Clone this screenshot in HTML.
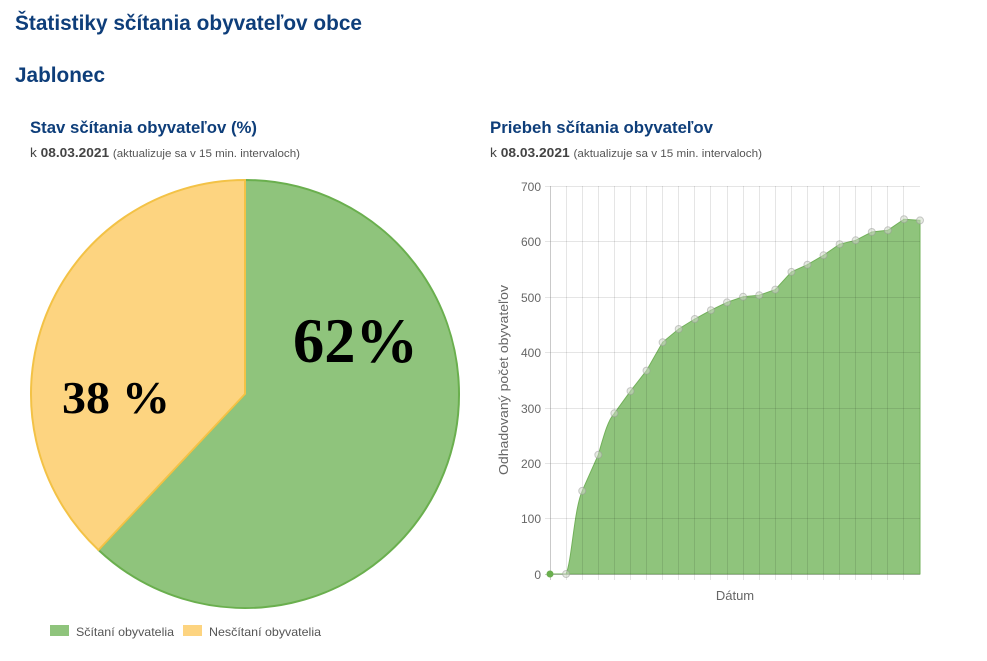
<!DOCTYPE html>
<html><head><meta charset="utf-8"><style>
html,body{margin:0;padding:0;background:#fff;}
svg{display:block;font-family:"Liberation Sans",sans-serif;}
</style></head><body>
<svg width="987" height="661" viewBox="0 0 987 661" xmlns="http://www.w3.org/2000/svg">
<g fill="#0e3e7a" font-weight="bold">
<text x="15" y="30" font-size="21" textLength="347" lengthAdjust="spacingAndGlyphs">Štatistiky sčítania obyvateľov obce</text>
<text x="15" y="82" font-size="21" textLength="90" lengthAdjust="spacingAndGlyphs">Jablonec</text>
<text x="30" y="133" font-size="17" textLength="227" lengthAdjust="spacingAndGlyphs">Stav sčítania obyvateľov (%)</text>
<text x="490" y="133" font-size="17" textLength="223" lengthAdjust="spacingAndGlyphs">Priebeh sčítania obyvateľov</text>
</g>
<g fill="#444" font-size="13">
<text x="30" y="157" textLength="270" lengthAdjust="spacingAndGlyphs">k <tspan font-weight="bold">08.03.2021</tspan> <tspan font-size="11" fill="#555">(aktualizuje sa v 15 min. intervaloch)</tspan></text>
<text x="490" y="157" textLength="272" lengthAdjust="spacingAndGlyphs">k <tspan font-weight="bold">08.03.2021</tspan> <tspan font-size="11" fill="#555">(aktualizuje sa v 15 min. intervaloch)</tspan></text>
</g>
<path d="M245,394 L245,180 A214,214 0 1 1 98.5,550 Z" fill="#8fc47c" stroke="#6aaf4e" stroke-width="2"/>
<path d="M245,394 L98.5,550 A214,214 0 0 1 245,180 Z" fill="#fdd480" stroke="#f3c246" stroke-width="2"/>
<text x="293" y="362" font-family="Liberation Serif,serif" font-weight="bold" font-size="64" textLength="125" lengthAdjust="spacingAndGlyphs">62%</text>
<text x="62" y="413" font-family="Liberation Serif,serif" font-weight="bold" font-size="46" textLength="108" lengthAdjust="spacingAndGlyphs">38 %</text>
<rect x="50" y="625" width="19" height="11" fill="#8fc47c"/>
<text x="76" y="636" font-size="12" fill="#555" textLength="98" lengthAdjust="spacingAndGlyphs">Sčítaní obyvatelia</text>
<rect x="183" y="625" width="19" height="11" fill="#fdd480"/>
<text x="209" y="636" font-size="12" fill="#555" textLength="112" lengthAdjust="spacingAndGlyphs">Nesčítaní obyvatelia</text>
<path d="M550,574 L566.1,574 C572,560 574,510 582.2,490.9 L598.3,454.8 C604,435 608,420 614.4,413.3 L630.5,391.1 L646.5,370.6 L662.6,342.3 L678.7,329 L694.8,319 L710.9,310.2 L727,302.4 L743.1,296.8 L759.2,295.2 L775.3,289.6 L791.4,271.9 L807.4,264.7 L823.5,255.3 L839.6,244.2 L855.7,240.3 L871.8,232 L887.9,230.3 L904,219.2 L920,220.4 L920,574 Z" fill="#8fc47c" stroke="#72b05a" stroke-width="1"/>
<g stroke="#000" stroke-opacity="0.1" stroke-width="1">
<line x1="545" y1="186.5" x2="920" y2="186.5"/><line x1="545" y1="241.5" x2="920" y2="241.5"/>
<line x1="545" y1="297.5" x2="920" y2="297.5"/><line x1="545" y1="352.5" x2="920" y2="352.5"/>
<line x1="545" y1="408.5" x2="920" y2="408.5"/><line x1="545" y1="463.5" x2="920" y2="463.5"/>
<line x1="545" y1="518.5" x2="920" y2="518.5"/>
<line x1="566.5" y1="186" x2="566.5" y2="580"/><line x1="582.5" y1="186" x2="582.5" y2="580"/>
<line x1="598.5" y1="186" x2="598.5" y2="580"/><line x1="614.5" y1="186" x2="614.5" y2="580"/>
<line x1="630.5" y1="186" x2="630.5" y2="580"/><line x1="646.5" y1="186" x2="646.5" y2="580"/>
<line x1="662.5" y1="186" x2="662.5" y2="580"/><line x1="678.5" y1="186" x2="678.5" y2="580"/>
<line x1="694.5" y1="186" x2="694.5" y2="580"/><line x1="710.5" y1="186" x2="710.5" y2="580"/>
<line x1="727.5" y1="186" x2="727.5" y2="580"/><line x1="743.5" y1="186" x2="743.5" y2="580"/>
<line x1="759.5" y1="186" x2="759.5" y2="580"/><line x1="775.5" y1="186" x2="775.5" y2="580"/>
<line x1="791.5" y1="186" x2="791.5" y2="580"/><line x1="807.5" y1="186" x2="807.5" y2="580"/>
<line x1="823.5" y1="186" x2="823.5" y2="580"/><line x1="839.5" y1="186" x2="839.5" y2="580"/>
<line x1="855.5" y1="186" x2="855.5" y2="580"/><line x1="871.5" y1="186" x2="871.5" y2="580"/>
<line x1="887.5" y1="186" x2="887.5" y2="580"/><line x1="903.5" y1="186" x2="903.5" y2="580"/>
</g>
<g stroke="#777" stroke-width="1" stroke-opacity="0.4">
<line x1="545" y1="574.5" x2="920" y2="574.5"/>
<line x1="550.5" y1="186" x2="550.5" y2="580"/>
</g>
<g fill="#cfd8c8" fill-opacity="0.55" stroke="#999" stroke-opacity="0.5">
<circle cx="566.1" cy="574" r="3.5"/><circle cx="582.2" cy="490.9" r="3.5"/><circle cx="598.3" cy="454.8" r="3.5"/><circle cx="614.4" cy="413.3" r="3.5"/><circle cx="630.5" cy="391.1" r="3.5"/><circle cx="646.5" cy="370.6" r="3.5"/><circle cx="662.6" cy="342.3" r="3.5"/><circle cx="678.7" cy="329" r="3.5"/><circle cx="694.8" cy="319" r="3.5"/><circle cx="710.9" cy="310.2" r="3.5"/><circle cx="727" cy="302.4" r="3.5"/><circle cx="743.1" cy="296.8" r="3.5"/><circle cx="759.2" cy="295.2" r="3.5"/><circle cx="775.3" cy="289.6" r="3.5"/><circle cx="791.4" cy="271.9" r="3.5"/><circle cx="807.4" cy="264.7" r="3.5"/><circle cx="823.5" cy="255.3" r="3.5"/><circle cx="839.6" cy="244.2" r="3.5"/><circle cx="855.7" cy="240.3" r="3.5"/><circle cx="871.8" cy="232" r="3.5"/><circle cx="887.9" cy="230.3" r="3.5"/><circle cx="904" cy="219.2" r="3.5"/><circle cx="920" cy="220.4" r="3.5"/>
</g>
<circle cx="550" cy="574" r="3.5" fill="#6aaf4e"/>
<g fill="#666" font-size="12" text-anchor="end">
<text x="541" y="191">700</text><text x="541" y="246">600</text><text x="541" y="302">500</text>
<text x="541" y="357">400</text><text x="541" y="413">300</text><text x="541" y="468">200</text>
<text x="541" y="523">100</text><text x="541" y="579">0</text>
</g>
<text x="735" y="600" fill="#666" font-size="13" text-anchor="middle">Dátum</text>
<text transform="translate(508,380) rotate(-90)" fill="#666" font-size="13" text-anchor="middle" textLength="190" lengthAdjust="spacingAndGlyphs">Odhadovaný počet obyvateľov</text>
</svg>
</body></html>
